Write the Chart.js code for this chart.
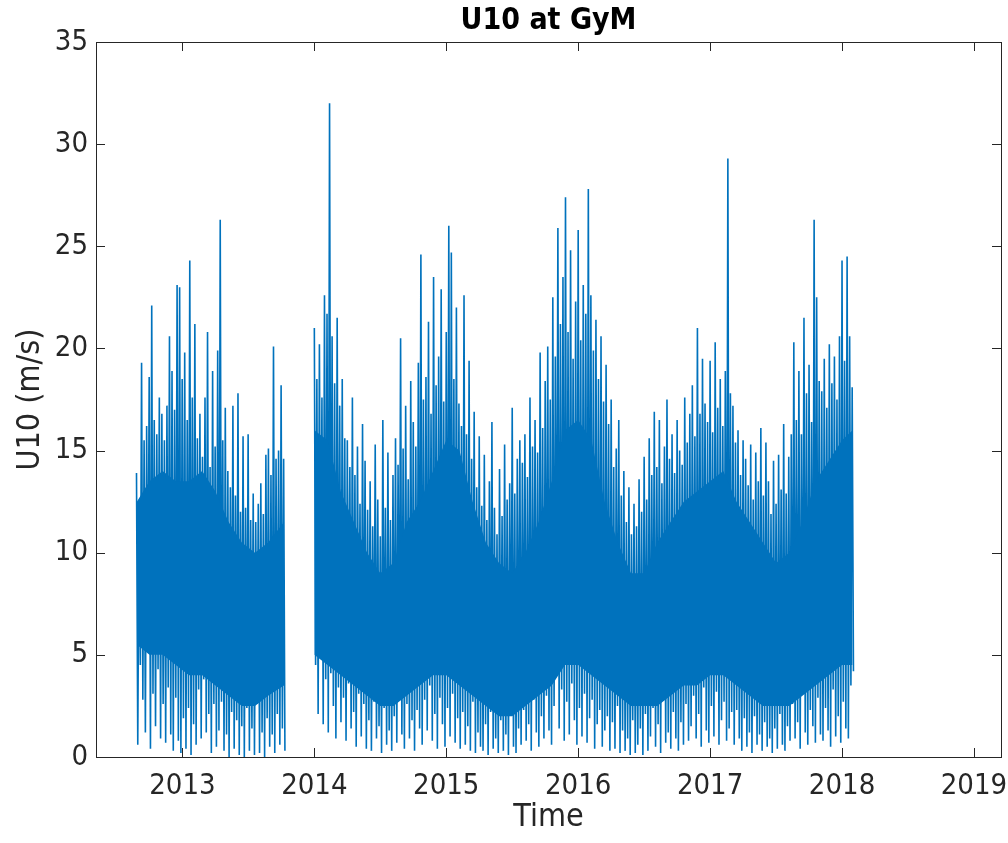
<!DOCTYPE html>
<html>
<head>
<meta charset="utf-8">
<title>U10 at GyM</title>
<script src="https://cdn.jsdelivr.net/npm/chart.js@4/dist/chart.umd.min.js"></script>
<style>
  html, body { margin: 0; padding: 0; background: #fff; }
  #wrap { width: 1008px; height: 843px; }
</style>
</head>
<body>
<div id="wrap"><canvas id="c" width="1008" height="843"></canvas></div>
<script>
// U10 wind speed (m/s), weekly max / min
const WEEK = 1 / 52;
const SEG_A_START = 2012.652;   // late Aug 2012
const SEG_B_START = 2014.0;     // data resumes Jan 2014

const SEG_A_HI = [
  13.9, 12.0, 19.3, 15.5, 16.2, 18.6, 22.1, 16.5, 15.8, 17.6,
  16.8, 15.5, 17.2, 20.6, 18.9, 17.0, 23.1, 23.0, 18.5, 19.8,
  16.5, 24.3, 17.6, 21.2, 15.6, 16.8, 14.7, 17.6, 20.8, 14.2,
  18.9, 15.2, 19.9, 26.3, 15.5, 17.1, 14.0, 13.2, 17.2, 12.8,
  17.8, 12.0, 15.7, 12.2, 15.8, 11.6, 12.9, 11.5, 12.4, 13.4,
  11.9, 14.8, 15.1, 13.8, 20.1, 14.6, 15.0, 18.2, 14.6,
];
const SEG_A_LO = [
  0.6, 4.5, 2.8, 1.2, 5.2, 0.4, 3.1, 1.5, 4.3, 0.9,
  2.6, 0.7, 3.4, 1.1, 0.3, 2.9, 0.8, 0.2, 1.9, 0.4,
  2.4, 0.1, 1.6, 0.6, 3.3, 0.9, 3.8, 1.2, 2.1, 0.2,
  2.6, 0.5, 1.3, 2.7, 0.3, 1.1, 0.0, 2.2, 0.4, 1.8,
  0.1, 1.5, 0.0, 2.4, 0.3, 1.4, 0.1, 2.6, 0.2, 1.2,
  0.0, 1.9, 0.5, 1.1, 0.2, 2.1, 0.6, 1.4, 0.3,
];

const SEG_B_HI = [
  21.0, 18.5, 20.2, 17.6, 22.6, 21.7, 32.0, 20.6, 18.3, 21.5, 17.2,
  18.5, 15.6, 15.5, 14.2, 17.6, 13.8, 15.2, 12.4, 16.3, 14.5,
  12.1, 13.5, 11.3, 15.3, 12.6, 10.8, 16.5, 12.2, 14.9, 11.6, 13.8, 15.6,
  14.3, 20.5, 15.1, 17.2, 13.6, 18.4, 16.4, 15.2, 19.3, 24.6,
  17.5, 18.6, 21.3, 16.8, 23.5, 18.2, 19.6, 22.9, 17.4, 20.8, 26.0, 24.7, 18.5, 22.0, 17.3,
  16.2, 22.6, 15.8, 19.4, 14.6, 16.9, 13.2, 15.7,
  12.3, 14.8, 11.6, 13.5, 16.4, 12.2, 10.9, 14.1, 11.8, 15.3, 12.6, 13.4, 17.1, 12.9, 14.6, 15.5,
  14.4, 15.8, 13.7, 17.6, 15.2, 16.5, 14.9, 19.8, 16.1, 18.4, 20.1, 17.5,
  22.5, 19.6, 25.9, 21.2, 23.5, 27.4, 20.8, 24.8, 19.5, 22.3, 25.8, 20.4,
  23.1, 21.7, 27.8, 22.6, 19.9, 21.4, 18.5, 20.6, 17.4, 19.2, 16.3,
  17.5, 14.2, 15.1, 16.5, 12.8, 14.0, 11.5, 13.2, 10.9, 12.4, 11.3, 13.6, 12.0, 14.7, 12.6, 15.6,
  13.8, 16.9, 14.2, 16.5, 13.4, 15.2, 17.5, 14.6, 15.8, 13.9, 16.5, 15.0, 14.3, 17.6, 15.4, 16.8,
  18.2, 15.7, 21.0, 16.8, 19.5, 17.3, 16.4, 19.4, 15.9, 20.3, 17.1, 18.5, 16.2, 18.9, 29.3, 17.8,
  17.2, 15.4, 16.0, 13.8, 15.5, 14.6, 13.3, 15.3, 12.6, 14.9, 13.5,
  16.1, 12.8, 15.4, 13.5, 11.9, 14.5, 12.4, 14.8, 13.1, 16.3, 12.9, 14.7,
  15.8, 20.3, 16.5, 18.9, 15.8, 21.5, 17.8, 19.2, 16.4, 26.3, 22.5, 18.4,
  17.9, 19.5, 17.1, 20.2, 18.3, 19.6, 17.5, 20.6, 24.3, 19.4, 24.5, 20.6, 18.1,
];
const SEG_B_LO = [
  4.5, 2.1, 5.3, 1.6, 3.8, 1.2, 4.1, 2.5, 0.9, 3.4, 1.7,
  2.9, 0.8, 3.6, 1.4, 2.2, 0.5, 3.1, 1.0, 2.6, 0.4,
  1.8, 0.3, 2.7, 0.9, 1.5, 0.2, 2.4, 0.6, 1.3, 0.3, 2.0, 0.7,
  3.2, 1.1, 0.4, 2.6, 0.9, 1.8, 0.3, 2.3, 1.4, 0.6,
  2.8, 1.3, 3.5, 0.8, 2.1, 0.4, 2.9, 1.6, 0.5, 2.4, 1.0, 3.1, 0.7, 1.9, 0.4,
  2.2, 0.6, 1.5, 0.3, 2.7, 0.2, 1.2, 0.5,
  0.3, 1.6, 0.1, 2.2, 0.4, 0.9, 0.2, 1.8, 0.3, 1.1, 0.1, 2.4, 0.5, 0.2, 1.4, 0.6,
  2.3, 0.8, 1.6, 0.3, 2.8, 1.2, 0.5, 2.0, 0.9, 3.0, 1.3, 0.6,
  2.5, 4.2, 1.4, 3.3, 0.8, 2.7, 1.1, 3.6, 1.8, 0.6, 2.4, 1.0,
  3.1, 0.7, 1.9, 2.8, 0.4, 1.6, 2.3, 0.5, 1.3, 2.0, 0.3,
  1.7, 0.4, 2.5, 0.2, 1.3, 0.3, 0.9, 0.1, 1.8, 0.2, 0.6, 1.4, 0.1, 2.1, 0.3, 1.0,
  2.4, 0.5, 1.6, 0.2, 2.9, 0.7, 1.2, 0.4, 2.2, 0.9, 0.3, 1.7, 0.6, 2.6, 0.8, 1.5,
  3.0, 0.9, 2.1, 0.5, 3.4, 1.3, 0.7, 2.5, 1.0, 3.2, 0.6, 1.8, 2.7, 0.8, 1.4, 2.2,
  0.6, 2.3, 0.9, 0.3, 1.9, 0.5, 1.2, 0.2, 2.0, 0.6, 1.1,
  0.3, 1.7, 0.5, 0.9, 0.2, 1.4, 0.4, 2.1, 0.6, 0.3, 1.5, 0.8,
  2.6, 0.9, 1.7, 0.4, 3.1, 1.2, 0.6, 2.3, 1.5, 0.7, 2.9, 1.1,
  0.8, 2.4, 1.3, 0.5, 3.3, 1.0, 2.0, 0.7, 2.7, 1.4, 0.9, 3.5, 4.2,
];

// the solid core of the hourly trace (where the line overlaps itself)
const CORE_A_T   = [2012.655, 2012.75, 2012.85, 2012.95, 2013.05, 2013.15, 2013.25, 2013.35, 2013.45, 2013.55, 2013.65, 2013.77];
const CORE_A_TOP = [12.5, 13.5, 14.0, 13.5, 13.5, 14.0, 13.0, 11.5, 10.5, 10.0, 10.5, 11.5];
const CORE_A_BOT = [5.5, 5.0, 5.0, 4.5, 4.0, 4.0, 3.5, 3.0, 2.5, 2.5, 3.0, 3.5];

const CORE_B_T = [
  2014.0, 2014.1, 2014.2, 2014.3, 2014.4, 2014.5, 2014.6, 2014.7, 2014.8, 2014.9,
  2015.0, 2015.1, 2015.2, 2015.3, 2015.4, 2015.5, 2015.6, 2015.7, 2015.8, 2015.9,
  2016.0, 2016.1, 2016.2, 2016.3, 2016.4, 2016.5, 2016.6, 2016.7, 2016.8, 2016.9,
  2017.0, 2017.1, 2017.2, 2017.3, 2017.4, 2017.5, 2017.6, 2017.7, 2017.8, 2017.9,
  2018.0, 2018.08,
];
const CORE_B_TOP = [
  16.0, 15.5, 13.0, 11.5, 10.0, 9.0, 9.5, 11.5, 12.5, 14.0,
  15.5, 15.0, 12.5, 10.5, 9.5, 9.0, 10.0, 11.5, 13.5, 16.0,
  16.5, 15.5, 12.5, 10.5, 9.0, 9.0, 10.5, 11.5, 12.5, 13.0,
  13.5, 14.0, 12.5, 11.5, 10.5, 9.5, 10.0, 11.5, 13.5, 14.5,
  15.5, 16.0,
];
const CORE_B_BOT = [
  5.0, 4.5, 4.0, 3.5, 3.0, 2.5, 2.5, 3.0, 3.5, 4.0,
  4.0, 3.5, 3.0, 2.5, 2.0, 2.0, 2.5, 3.0, 3.5, 4.5,
  4.5, 4.0, 3.5, 3.0, 2.5, 2.5, 2.5, 3.0, 3.5, 3.5,
  4.0, 4.0, 3.5, 3.0, 2.5, 2.5, 2.5, 3.0, 3.5, 4.0,
  4.5, 4.5,
];

const YEAR_TICKS = [2013, 2014, 2015, 2016, 2017, 2018, 2019];
const Y_TICKS = [0, 5, 10, 15, 20, 25, 30, 35];
const X_MIN = 2012.345, X_MAX = 2019.205;

const MATLAB_BLUE = '#0072BD';
const AX = '#262626';
const FONT = '"Liberation Sans Narrow", "Arial Narrow", "DejaVu Sans Condensed", "Liberation Sans", sans-serif';

// hi/lo alternate inside each week so the trace fills like the dense hourly record
function weekly(start, hi, lo) {
  const pts = [];
  hi.forEach((h, i) => {
    const t = start + i * WEEK;
    pts.push({ x: t, y: h }, { x: t + WEEK / 2, y: lo[i] });
  });
  return pts;
}
const pair = (ts, vs) => ts.map((t, i) => ({ x: t, y: vs[i] }));

const traceStyle = { borderColor: MATLAB_BLUE, borderWidth: 1.6, pointRadius: 0, tension: 0, fill: false };
const coreStyle = { borderWidth: 0, pointRadius: 0, tension: 0, backgroundColor: MATLAB_BLUE, borderColor: MATLAB_BLUE };

// MATLAB-style box with inward ticks on all four sides
const boxTicks = {
  id: 'boxTicks',
  afterDraw(chart) {
    const { ctx, chartArea: a, scales: { x, y } } = chart;
    const len = 9;
    ctx.save();
    ctx.strokeStyle = AX;
    ctx.lineWidth = 1;
    ctx.beginPath();
    x.ticks.forEach(t => {
      const px = Math.round(x.getPixelForValue(t.value)) + 0.5;
      ctx.moveTo(px, a.bottom); ctx.lineTo(px, a.bottom - len);
      ctx.moveTo(px, a.top); ctx.lineTo(px, a.top + len);
    });
    y.ticks.forEach(t => {
      const py = Math.round(y.getPixelForValue(t.value)) + 0.5;
      ctx.moveTo(a.left, py); ctx.lineTo(a.left + len, py);
      ctx.moveTo(a.right, py); ctx.lineTo(a.right - len, py);
    });
    ctx.stroke();
    ctx.strokeRect(Math.round(a.left) + 0.5, Math.round(a.top) + 0.5,
      Math.round(a.right - a.left), Math.round(a.bottom - a.top));
    ctx.restore();
  }
};

new Chart(document.getElementById('c'), {
  type: 'line',
  data: {
    datasets: [
      { label: 'coreA', data: pair(CORE_A_T, CORE_A_TOP), fill: '+1', ...coreStyle },
      { label: 'coreA_bot', data: pair(CORE_A_T, CORE_A_BOT), fill: false, ...coreStyle },
      { label: 'coreB', data: pair(CORE_B_T, CORE_B_TOP), fill: '+1', ...coreStyle },
      { label: 'coreB_bot', data: pair(CORE_B_T, CORE_B_BOT), fill: false, ...coreStyle },
      { label: 'U10 2012-13', data: weekly(SEG_A_START, SEG_A_HI, SEG_A_LO), ...traceStyle },
      { label: 'U10 2014-18', data: weekly(SEG_B_START, SEG_B_HI, SEG_B_LO), ...traceStyle },
    ]
  },
  options: {
    responsive: false,
    animation: false,
    events: [],
    layout: { padding: { left: 0, right: 7, top: 0, bottom: 0 } },
    plugins: {
      legend: { display: false },
      tooltip: { enabled: false },
      title: {
        display: true,
        text: 'U10 at GyM',
        fullSize: false,
        color: '#000',
        font: { family: FONT, size: 30, weight: 'bold', lineHeight: 1 },
        padding: { top: 6, bottom: 6 },
      },
    },
    scales: {
      x: {
        type: 'linear',
        min: X_MIN, max: X_MAX,
        afterBuildTicks: s => { s.ticks = YEAR_TICKS.map(v => ({ value: v })); },
        afterFit: s => { s.height = 86; s.paddingLeft = 0; s.paddingRight = 0; },
        grid: { display: false, drawTicks: false },
        border: { display: false },
        ticks: {
          color: AX, padding: 12, maxRotation: 0, autoSkip: false,
          font: { family: FONT, size: 29 },
          callback: v => String(v),
        },
        title: {
          display: true, text: 'Time', color: AX,
          font: { family: FONT, size: 32 },
          padding: { top: 0, bottom: 6 },
        },
      },
      y: {
        min: 0, max: 35,
        afterBuildTicks: s => { s.ticks = Y_TICKS.map(v => ({ value: v })); },
        afterFit: s => { s.width = 96; },
        grid: { display: false, drawTicks: false },
        border: { display: false },
        ticks: {
          color: AX, padding: 8,
          font: { family: FONT, size: 29 },
        },
        title: {
          display: true, text: 'U10 (m/s)', color: AX,
          font: { family: FONT, size: 32 },
          padding: { top: 11, bottom: 0 },
        },
      },
    },
  },
  plugins: [boxTicks],
});
</script>
</body>
</html>
